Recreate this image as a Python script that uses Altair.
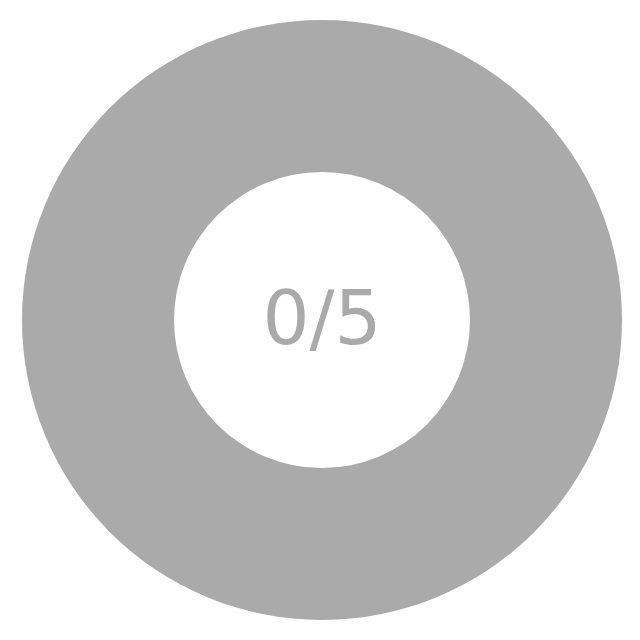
import altair as alt
import pandas as pd

labels = ["remaining"]
values = [5]
done = 0
total = 5

source = pd.DataFrame({"part": labels, "value": values})

ring = alt.Chart(source).mark_arc(innerRadius=148, outerRadius=300, color="#aaaaaa").encode(
    theta=alt.Theta("value:Q", stack=True)
)

center = alt.Chart(pd.DataFrame({"label": [f"{done}/{total}"]})).mark_text(
    fontSize=74, color="#aaaaaa", baseline="middle", align="center", dy=2,
    font="DejaVu Sans"
).encode(text="label:N")

chart = (ring + center).properties(
    width=600, height=600,
    padding={"left": 14, "top": 12, "right": 0, "bottom": 0}
).configure_view(stroke=None)

chart.save("out.html", embed_options={"renderer": "svg", "actions": False})
